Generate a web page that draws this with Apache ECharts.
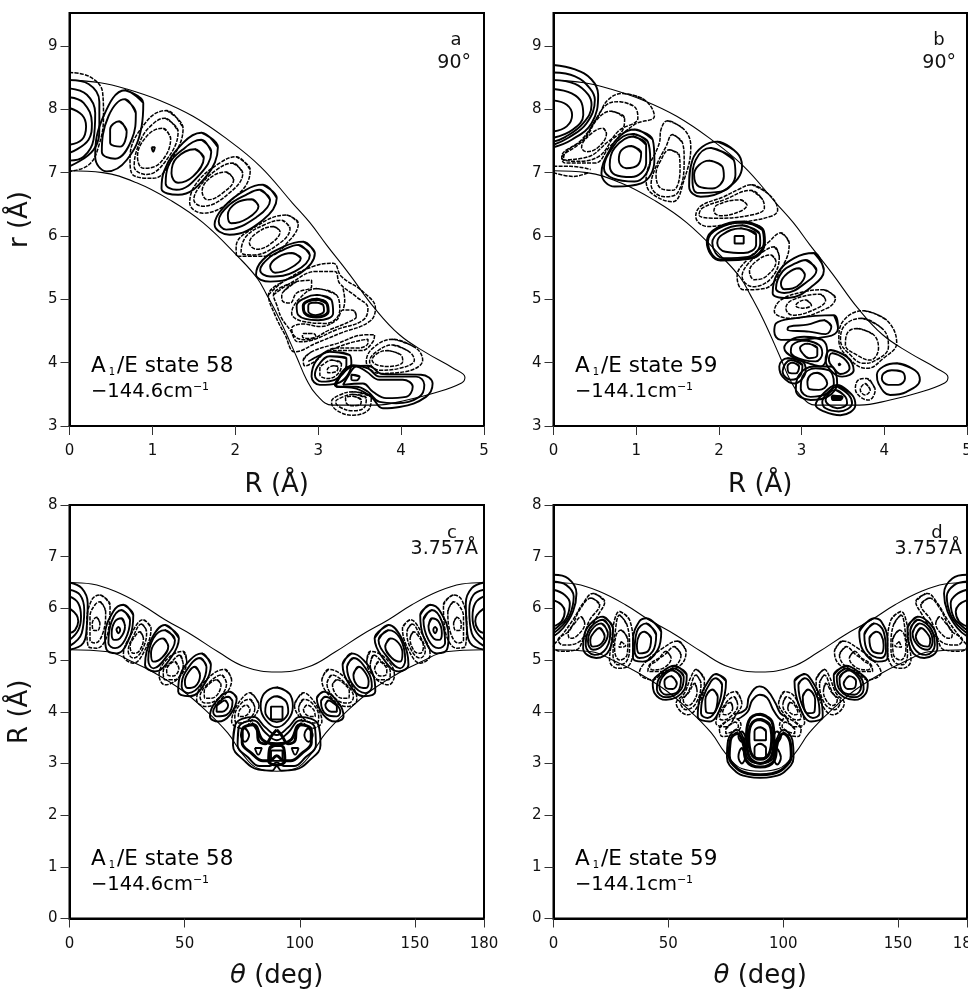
<!DOCTYPE html>
<html><head><meta charset="utf-8">
<style>html,body{margin:0;padding:0;background:#fff}#c{width:968px;height:994px}</style>
<script src="https://cdn.jsdelivr.net/npm/echarts@6/dist/echarts.min.js"></script>
</head><body><div id="c"></div>
<script>
const boundaryTopAB=[[0,8.46,.37,8.42,.69,8.32,1.09,8.14,1.49,7.89,1.89,7.54,2.3,7.1,2.69,6.52,2.9,6.21,3.1,5.86,3.38,5.39,3.68,4.86,3.98,4.44,4.31,4.15,4.62,3.92,4.77,3.77,4.73,3.68,4.4,3.52,4.07,3.41,3.7,3.33,3.17,3.33,2.98,3.49,2.86,3.73,2.74,4.09,2.54,4.67,2.38,5.07,2.26,5.34,2.05,5.65,1.61,6.21,1.21,6.57,.81,6.84,.4,7.0,0,7.03]];
const arcsSolidA=[
[0,8.46,.23,8.40,.36,8.12,.36,7.73,.29,7.36,0,7.1],
[0,8.33,.21,8.23,.31,7.94,.29,7.52,.17,7.25,0,7.19],
[0,8.19,.17,8.10,.27,7.78,.23,7.52,0,7.31],
[0,8.02,.15,7.91,.2,7.73,.15,7.52,0,7.44]];
const arcsDashedA=[
[0,8.58,.25,8.51,.40,8.26,.41,7.89,.35,7.41,.23,7.12,0,7.02],
[3.3,5.17,3.32,4.98,3.3,4.83]];
const solidA=[
[.67,8.30,.89,8.10,.87,7.73,.69,7.2,.45,7.02,.31,7.25,.41,7.89],
[.67,8.16,.8,7.94,.75,7.52,.55,7.22,.39,7.33,.47,7.89],
[.60,7.81,.69,7.65,.61,7.41,.49,7.47,.49,7.68],
[.99,7.40,1.03,7.40,1.01,7.33],
[1.59,7.63,1.79,7.40,1.65,6.94,1.31,6.65,1.11,6.75,1.14,7.02,1.37,7.47],
[1.59,7.52,1.71,7.33,1.57,6.97,1.29,6.73,1.16,6.83,1.19,7.1,1.39,7.39],
[1.51,7.37,1.62,7.23,1.49,6.94,1.31,6.84,1.23,6.99,1.29,7.23],
[2.33,6.81,2.5,6.60,2.33,6.25,1.93,6.02,1.75,6.18,1.85,6.44,2.13,6.73],
[2.29,6.73,2.42,6.57,2.27,6.31,1.89,6.10,1.80,6.23,1.91,6.47,2.13,6.65],
[2.2,6.58,2.28,6.47,2.15,6.28,1.95,6.20,1.91,6.33,2.01,6.52],
[2.82,5.91,2.96,5.73,2.78,5.41,2.42,5.28,2.25,5.39,2.33,5.62,2.58,5.83],
[2.76,5.86,2.9,5.70,2.72,5.44,2.42,5.36,2.30,5.46,2.42,5.67,2.58,5.78],
[2.68,5.73,2.79,5.65,2.66,5.49,2.48,5.42,2.42,5.52,2.52,5.67],
[2.98,5.07,3.16,4.99,3.18,4.78,3.0,4.67,2.76,4.75,2.74,4.9,2.84,5.02],
[2.98,5.0,3.10,4.94,3.12,4.81,2.98,4.72,2.84,4.78,2.82,4.9],
[2.97,4.95,3.06,4.91,3.07,4.82,2.97,4.75,2.88,4.81,2.88,4.9],
[3.3,3.65,3.38,3.83,3.46,3.94,3.58,3.86,3.74,3.73,4.02,3.73,4.14,3.62,4.06,3.46,3.82,3.44,3.66,3.54,3.54,3.67],
[3.22,3.67,3.42,3.96,3.6,3.91,3.74,3.78,4.18,3.78,4.28,3.65,4.22,3.46,3.94,3.36,3.74,3.38,3.6,3.54,3.46,3.62,3.22,3.62],
[3.2,3.65,3.38,3.94,3.6,3.95,3.78,3.82,4.24,3.81,4.38,3.67,4.3,3.46,3.98,3.3,3.78,3.28,3.64,3.46,3.46,3.59],
[3.4,3.81,3.5,3.78,3.46,3.72,3.4,3.74],
[3.14,4.17,3.38,4.12,3.4,3.99,3.22,3.67,3.02,3.65,2.92,3.78,2.98,4.04],
[3.14,4.1,3.34,4.07,3.34,3.96,3.2,3.73,3.04,3.7,2.96,3.81,3.02,3.99]];
const boldA=[[2.98,5.0,3.10,4.94,3.12,4.81,2.98,4.72,2.84,4.78,2.82,4.9]];
const dashedA=[
[1.17,7.98,1.37,7.70,1.25,7.25,1.01,6.91,.75,6.99,.73,7.23,.93,7.81],
[1.15,7.86,1.31,7.65,1.17,7.2,.93,6.97,.78,7.1,.85,7.49,.99,7.75],
[1.13,7.70,1.22,7.54,1.09,7.15,.89,7.07,.82,7.25,.95,7.6],
[2.01,7.25,2.18,7.04,2.05,6.68,1.61,6.36,1.45,6.52,1.53,6.83,1.81,7.15],
[1.97,7.15,2.09,6.99,1.93,6.68,1.61,6.47,1.50,6.57,1.57,6.78,1.77,7.04],
[1.89,7.01,1.98,6.89,1.85,6.68,1.67,6.57,1.60,6.70,1.69,6.91],
[2.62,6.33,2.76,6.20,2.66,5.94,2.38,5.68,2.02,5.68,2.01,5.83,2.25,6.15],
[2.56,6.25,2.66,6.12,2.54,5.89,2.21,5.70,2.07,5.75,2.13,5.99,2.34,6.17],
[2.46,6.15,2.54,6.07,2.44,5.89,2.26,5.79,2.17,5.89,2.25,6.04],
[2.40,5.07,2.58,5.28,2.94,5.52,3.18,5.57,3.28,5.36,3.54,5.12,3.69,4.86,3.62,4.65,3.26,4.46,2.98,4.31,2.72,4.17,2.6,4.44,2.48,4.75],
[2.46,5.07,2.66,5.25,2.98,5.44,3.2,5.44,3.26,5.25,3.46,5.04,3.6,4.86,3.54,4.67,3.22,4.52,2.94,4.36,2.76,4.33,2.66,4.52,2.56,4.7,2.5,4.91],
[2.58,5.12,2.74,5.28,2.92,5.3,2.92,5.2,2.74,5.1,2.66,4.94,2.58,4.96,2.56,5.05],
[3.44,4.81,3.46,4.73,3.38,4.65,3.14,4.52,2.86,4.36,2.72,4.41,2.68,4.54,2.82,4.61,3.02,4.57,3.22,4.67,3.3,4.83,3.38,4.83],
[2.82,4.46,2.94,4.46,2.97,4.42,2.88,4.38,2.81,4.41],
[2.98,5.17,3.22,5.07,3.26,4.83,3.10,4.62,2.82,4.65,2.68,4.78,2.78,5.02],
[2.82,4.04,2.92,4.17,3.22,4.3,3.58,4.44,3.68,4.44,3.66,4.33,3.52,4.19,3.34,4.19,3.14,4.19,2.96,4.02,2.84,3.95],
[2.88,4.02,3.1,4.17,3.38,4.31,3.6,4.37,3.6,4.31,3.48,4.23,3.22,4.23,3.02,4.12],
[3.9,4.37,4.18,4.23,4.26,4.04,4.06,3.86,3.74,3.83,3.58,4.02,3.66,4.23],
[3.9,4.28,4.1,4.17,4.16,4.04,3.98,3.91,3.74,3.88,3.62,4.02,3.7,4.17],
[3.84,4.19,4.0,4.12,4.02,4.02,3.86,3.94,3.72,3.96,3.65,4.04,3.72,4.15],
[3.16,4.04,3.28,3.99,3.26,3.86,3.12,3.75,3.02,3.81,3.02,3.91,3.08,3.99],
[3.19,3.95,3.24,3.94,3.22,3.86,3.12,3.84,3.11,3.89],
[3.42,3.54,3.64,3.46,3.62,3.28,3.42,3.17,3.22,3.25,3.16,3.38,3.26,3.49],
[3.42,3.5,3.58,3.44,3.56,3.3,3.42,3.24,3.26,3.3,3.21,3.38,3.3,3.46],
[3.42,3.47,3.52,3.41,3.5,3.33,3.4,3.32,3.34,3.36,3.33,3.44]];

const arcsSolidB=[
[0,8.70,.26,8.63,.46,8.47,.54,8.23,.46,7.78,.22,7.52,0,7.40],
[0,8.58,.26,8.52,.44,8.33,.5,8.15,.4,7.78,.18,7.55,0,7.44],
[0,8.46,.26,8.40,.42,8.23,.46,8.07,.36,7.78,.14,7.56,0,7.49],
[0,8.32,.22,8.25,.34,8.1,.36,7.91,.235,7.68,0,7.55],
[0,8.14,.16,8.07,.225,7.91,.16,7.73,0,7.65]];
const arcsDashedB=[[0,7.0,.24,6.94,.42,7.0],[0,7.1,.2,7.1,.45,7.05]];
const solidB=[
[.98,7.68,1.2,7.52,1.22,7.2,1.06,6.83,.74,6.78,.58,6.99,.68,7.36,.82,7.6],
[.96,7.61,1.14,7.49,1.17,7.2,.98,6.86,.72,6.91,.61,7.07,.72,7.41,.84,7.57],
[.96,7.57,1.12,7.44,1.12,7.15,.94,6.93,.74,6.97,.68,7.12,.74,7.39],
[.94,7.42,1.06,7.31,1.02,7.12,.88,7.07,.79,7.2,.82,7.35],
[1.98,7.49,2.22,7.31,2.28,7.1,2.1,6.75,1.78,6.62,1.64,6.78,1.68,7.2,1.8,7.41],
[1.9,7.39,2.18,7.2,2.2,6.97,2.02,6.7,1.74,6.68,1.68,6.89,1.72,7.2],
[1.88,7.19,2.04,7.1,2.06,6.94,1.92,6.75,1.76,6.78,1.7,6.97,1.76,7.12],
[2.3,6.22,2.53,6.1,2.55,5.91,2.39,5.65,2.02,5.62,1.86,5.91,1.98,6.12],
[2.28,6.17,2.49,6.04,2.5,5.89,2.35,5.67,2.06,5.65,1.92,5.89,2.02,6.07],
[2.26,6.12,2.45,6.02,2.45,5.86,2.3,5.73,2.08,5.75,1.98,5.89,2.04,6.02],
[2.19,6.0,2.3,6.0,2.3,5.88,2.19,5.88],
[3.15,5.73,3.27,5.46,3.15,5.23,2.83,5.02,2.65,5.1,2.71,5.41,2.91,5.65],
[3.05,5.62,3.18,5.46,3.07,5.28,2.79,5.1,2.69,5.17,2.77,5.44,2.93,5.57],
[2.97,5.49,3.04,5.39,2.89,5.17,2.79,5.16,2.75,5.25,2.83,5.41],
[3.39,4.75,3.44,4.54,3.31,4.41,2.75,4.36,2.67,4.49,2.69,4.62,2.91,4.7],
[3.27,4.67,3.36,4.57,3.29,4.45,3.09,4.49,2.83,4.52,2.85,4.57,3.07,4.6],
[4.15,3.99,4.37,3.88,4.43,3.73,4.27,3.54,4.07,3.49,3.93,3.67,3.91,3.81,3.99,3.94],
[4.09,3.88,4.21,3.86,4.25,3.75,4.17,3.65,4.05,3.65,3.97,3.75,3.99,3.83],
[3.03,4.41,3.25,4.36,3.31,4.17,3.23,3.94,3.09,3.99,2.89,4.09,2.79,4.23,2.87,4.36],
[3.05,4.35,3.21,4.28,3.25,4.15,3.17,4.02,3.03,4.04,2.87,4.17,2.89,4.28],
[3.07,4.3,3.19,4.23,3.19,4.12,3.09,4.07,3.01,4.15,2.98,4.23],
[2.83,4.07,3.01,4.02,3.05,3.88,2.91,3.67,2.77,3.78,2.73,3.94],
[2.87,4.04,3.01,3.96,2.99,3.81,2.87,3.73,2.77,3.86],
[2.89,4.0,2.97,3.94,2.93,3.83,2.85,3.84,2.83,3.94],
[3.15,3.94,3.35,3.94,3.43,3.67,3.31,3.46,3.11,3.41,2.93,3.57,2.97,3.81],
[3.17,3.91,3.33,3.88,3.39,3.67,3.27,3.49,3.11,3.46,2.99,3.59,3.01,3.78],
[3.19,3.84,3.27,3.78,3.31,3.67,3.21,3.57,3.1,3.58,3.07,3.7,3.11,3.81],
[3.35,4.2,3.55,4.09,3.63,3.88,3.49,3.78,3.39,3.83,3.29,4.04],
[3.37,4.15,3.51,4.07,3.58,3.91,3.47,3.82,3.39,3.91,3.33,4.04],
[3.45,3.99,3.47,3.97,3.45,3.96],
[3.43,3.65,3.61,3.49,3.65,3.33,3.47,3.17,3.27,3.23,3.17,3.33,3.27,3.52],
[3.43,3.62,3.57,3.49,3.61,3.36,3.45,3.23,3.29,3.28,3.25,3.38,3.31,3.52],
[3.41,3.57,3.53,3.46,3.55,3.36,3.43,3.28,3.33,3.33,3.29,3.41],
[3.37,3.47,3.49,3.46,3.47,3.42,3.38,3.42]];
const boldB=[[3.37,3.47,3.49,3.46,3.47,3.42,3.38,3.42],[2.3,6.22,2.53,6.1,2.55,5.91,2.39,5.65,2.02,5.62,1.86,5.91,1.98,6.12]];
const dashedB=[
[.84,8.25,1.1,8.15,1.22,7.89,.98,7.76,.68,7.41,.5,7.15,.14,7.15,.1,7.25,.34,7.52,.54,7.89,.66,8.15],
[.8,8.12,.98,8.04,1.02,7.86,.78,7.65,.54,7.25,.26,7.18,.1,7.23,.34,7.49,.52,7.86,.64,8.07],
[.7,7.97,.86,7.86,.84,7.68,.66,7.49,.42,7.25,.12,7.2,.14,7.31,.38,7.54,.54,7.86],
[.6,7.70,.64,7.62,.54,7.40,.4,7.33,.34,7.40,.46,7.62],
[1.38,7.82,1.58,7.68,1.66,7.41,1.58,6.89,1.44,6.54,1.18,6.68,1.12,6.89,1.28,7.47,1.3,7.68],
[1.44,7.6,1.56,7.47,1.58,7.2,1.5,6.68,1.34,6.62,1.18,6.81,1.24,7.1,1.36,7.41],
[1.4,7.36,1.52,7.28,1.53,7.04,1.44,6.72,1.3,6.75,1.24,6.97,1.3,7.2],
[2.39,6.81,2.61,6.65,2.71,6.41,2.63,6.31,2.18,6.2,1.86,6.15,1.72,6.31,1.78,6.47,2.06,6.62,2.26,6.75],
[2.39,6.72,2.53,6.57,2.55,6.44,2.39,6.33,1.94,6.28,1.76,6.33,1.8,6.44,2.06,6.57],
[2.26,6.57,2.34,6.49,2.26,6.39,2.02,6.32,1.94,6.39,1.98,6.49],
[2.75,6.05,2.85,5.89,2.79,5.57,2.55,5.17,2.3,5.15,2.22,5.36,2.34,5.62,2.59,5.89],
[2.67,5.83,2.73,5.67,2.63,5.33,2.41,5.2,2.28,5.36,2.34,5.54,2.51,5.73],
[2.63,5.7,2.69,5.6,2.57,5.36,2.43,5.31,2.37,5.44,2.47,5.62],
[3.27,5.15,3.41,5.02,3.31,4.86,2.87,4.7,2.67,4.81,2.75,4.99,3.03,5.12],
[3.23,5.08,3.29,4.99,3.19,4.86,2.89,4.75,2.81,4.86,2.89,4.99],
[3.05,4.99,3.12,4.91,3.01,4.86,2.93,4.9,2.97,4.96],
[3.75,4.82,4.03,4.67,4.15,4.31,3.99,4.07,3.79,3.91,3.61,4.02,3.45,4.36,3.51,4.67],
[3.73,4.7,3.99,4.52,4.05,4.25,3.87,4.02,3.75,3.99,3.59,4.12,3.47,4.36,3.53,4.6],
[3.67,4.54,3.87,4.44,3.93,4.23,3.83,4.04,3.67,4.12,3.53,4.28,3.55,4.46],
[3.79,3.75,3.89,3.57,3.81,3.41,3.71,3.46,3.65,3.59,3.69,3.73],
[3.77,3.67,3.83,3.57,3.77,3.49,3.71,3.57]];

const boundaryCD=[
[0,6.5,9.6,6.47,19.8,6.33,31.3,6.07,41.5,5.78,53,5.49,64.5,5.16,76.2,4.87,90,4.77,103.8,4.87,115.5,5.16,127,5.49,138.5,5.78,148.7,6.07,160.2,6.33,170.4,6.47,180,6.5],
[0,5.2,16.7,5.16,27,4.97,37,4.75,48.7,4.42,58.8,4.04,68.7,3.59,74.8,3.2,81.9,2.9,90,2.85,98.1,2.9,105.2,3.2,111.3,3.59,121.2,4.04,131.3,4.42,143,4.75,153,4.97,163.3,5.16,180,5.2]];
const arcsSolidC=[
[0,6.5,5.3,6.39,7.9,6.1,7.5,5.65,6,5.33,0,5.2],[0,6.36,4.6,6.26,6.4,5.97,5.3,5.52,0,5.27],[0,6.23,3.8,6.1,5,5.84,3.8,5.58,0,5.39],[0,6.0,3.1,5.87,3.8,5.75,2.4,5.58,0,5.52],
[180,6.5,174.7,6.39,172.1,6.1,172.5,5.65,174,5.33,180,5.2],[180,6.36,175.4,6.26,173.6,5.97,174.7,5.52,180,5.27],[180,6.23,176.2,6.1,175,5.84,176.2,5.58,180,5.39],[180,6.0,176.9,5.87,176.2,5.75,177.6,5.58,180,5.52]];
const boldArcsC=[[79,3.78,81.5,3.65,82,3.45,85,3.38,88,3.55,90,3.65],[101,3.78,98.5,3.65,98,3.45,95,3.38,92,3.55,90,3.65]];
const solidC=[
[23.4,6.07,27.7,5.87,26.3,5.46,20.5,5.13,16.1,5.2,15.4,5.46,19,5.94],[22.6,5.97,26.3,5.78,24.1,5.39,19.8,5.23,16.9,5.33,18.3,5.75],[22.6,5.81,24.1,5.65,21.9,5.42,19.5,5.39,18.3,5.52,19.8,5.75],[20.4,5.6,21.2,5.64,22,5.58,21.2,5.52],
[41.5,5.68,47.5,5.42,44.4,5.07,37.1,4.78,32.8,4.91,35.4,5.39],[41.5,5.58,45.8,5.39,42.2,5.07,36.4,4.84,34.2,5,36.4,5.42],[40.7,5.42,42.9,5.26,40,5.04,36.4,4.97,35.4,5.13,37.1,5.33],
[57.4,5.13,61.4,4.91,58.8,4.55,52.3,4.3,47.2,4.39,47.9,4.68,52.3,5],[56.7,5.04,59.5,4.87,57.4,4.55,51.6,4.36,48.7,4.49,50.1,4.75],[54.5,4.87,56.7,4.71,54.5,4.49,51.3,4.46,50.1,4.59,51.9,4.78],
[69.7,4.39,72.6,4.26,69.7,3.94,64.6,3.81,61,3.91,63.2,4.17],[68.9,4.29,70.8,4.2,68.2,3.94,63.9,3.91,62.4,4,65.3,4.2],[67.5,4.22,68.9,4.13,66.3,4,63.9,4,63.9,4.1,65.8,4.18],
[156.6,6.07,152.3,5.87,153.7,5.46,159.5,5.13,163.9,5.2,164.6,5.46,161,5.94],[157.4,5.97,153.7,5.78,155.9,5.39,160.2,5.23,163.1,5.33,161.7,5.75],[157.4,5.81,155.9,5.65,158.1,5.42,160.5,5.39,161.7,5.52,160.2,5.75],[159.6,5.6,158.8,5.64,158,5.58,158.8,5.52],
[138.5,5.68,132.5,5.42,135.6,5.07,142.9,4.78,147.2,4.91,144.6,5.39],[138.5,5.58,134.2,5.39,137.8,5.07,143.6,4.84,145.8,5,143.6,5.42],[139.3,5.42,137.1,5.26,140,5.04,143.6,4.97,144.6,5.13,142.9,5.33],
[122.6,5.13,118.6,4.91,121.2,4.55,127.7,4.3,132.8,4.39,132.1,4.68,127.7,5],[123.3,5.04,120.5,4.87,122.6,4.55,128.4,4.36,131.3,4.49,129.9,4.75],[125.5,4.87,123.3,4.71,125.5,4.49,128.7,4.46,129.9,4.59,128.1,4.78],
[110.3,4.39,107.4,4.26,110.3,3.94,115.4,3.81,119,3.91,116.8,4.17],[111.1,4.29,109.2,4.2,111.8,3.94,116.1,3.91,117.6,4,114.7,4.2],[112.5,4.22,111.1,4.13,113.7,4,116.1,4,116.1,4.1,114.2,4.18],
[90,4.47,95.5,4.35,97,4.1,95,3.85,90,3.7,85,3.85,83,4.1,84.5,4.35],[90,4.3,94,4.2,95,4.0,93,3.85,90,3.8,87,3.85,85,4.0,86,4.2],[87.5,4.1,92.5,4.1,92.5,3.85,87.5,3.85],
[72,3.75,71,3.35,76,3.05,82,2.88,88,2.86,90,2.95,92,2.86,98,2.88,104,3.05,109,3.35,108,3.75,100,3.9,95,3.7,90,3.55,85,3.7,80,3.9],
[73.5,3.7,73,3.35,77.5,3.12,82.5,2.95,87,2.95,90,3.02,93,2.95,97.5,2.95,102.5,3.12,107,3.35,106.5,3.7,100,3.83,95,3.6,90,3.45,85,3.6,80,3.83],
[76.2,3.68,78,3.55,76.2,3.42,74.4,3.55],[103.8,3.68,105.6,3.55,103.8,3.42,102,3.55],
[80.5,3.3,83.5,3.3,82,3.17],[99.5,3.3,96.5,3.3,98,3.17],
[87.5,3.25,92.5,3.25,92.5,3.05,87.5,3.05]];
const boldC=[[75,3.65,75,3.4,79,3.2,84,3.05,87,3.05,90,3.15,93,3.05,96,3.05,101,3.2,105,3.4,105,3.65,100,3.75,96,3.45,90,3.38,84,3.45,80,3.75],[87,3.3,90,3.35,93,3.3,93.5,3.05,90,2.97,86.5,3.05]];
const dashedC=[
[13.2,6.26,17.6,6.07,16.9,5.58,11.8,5.23,8.2,5.26,7.5,5.71,9.6,6.16],[13.2,6.13,15.7,5.94,14.7,5.55,11.1,5.33,8.9,5.39,8.9,5.84,11.1,6.07],[11.8,5.83,13.2,5.71,12.2,5.57,10.3,5.58,9.9,5.71],
[32.1,5.78,35.4,5.62,32.8,5.2,27.7,4.94,23.4,5.1,26.3,5.46],[31.3,5.7,33.5,5.55,31.3,5.17,27.7,5.04,25.5,5.17,27.7,5.46],[30.6,5.55,32.1,5.42,30.2,5.17,27.7,5.13,26.3,5.26,28.4,5.46],
[49.4,5.17,50.9,4.97,47.2,4.65,41.5,4.52,38.9,4.71,42.9,5.04],[47.9,5.1,49.4,4.91,45.8,4.62,41.5,4.62,40.7,4.78,44.4,4.97],[45.8,4.97,47.5,4.84,45.1,4.69,42.6,4.71,42.2,4.81,44.1,4.94],
[67.5,4.82,70.4,4.62,66.1,4.26,59.5,4.1,55.2,4.23,58.8,4.59],[66.1,4.71,68.2,4.55,63.9,4.23,58.8,4.17,56.7,4.29,60.3,4.55],[63.9,4.62,65.8,4.52,61.7,4.26,58.8,4.26,58.5,4.39,61,4.55],
[78.4,4.37,82.3,4.13,79.8,3.88,74.7,3.68,70.4,3.81,71.8,4.04,75.5,4.29],[78.4,4.24,80.5,4.07,77.6,3.84,72.6,3.78,71.8,3.91,74.7,4.17],[76.9,4.13,78.4,4.04,75.5,3.91,73.3,3.91,74,4.04],
[166.8,6.26,162.4,6.07,163.1,5.58,168.2,5.23,171.8,5.26,172.5,5.71,170.4,6.16],[166.8,6.13,164.3,5.94,165.3,5.55,168.9,5.33,171.1,5.39,171.1,5.84,168.9,6.07],[168.2,5.83,166.8,5.71,167.8,5.57,169.7,5.58,170.1,5.71],
[147.9,5.78,144.6,5.62,147.2,5.2,152.3,4.94,156.6,5.1,153.7,5.46],[148.7,5.7,146.5,5.55,148.7,5.17,152.3,5.04,154.5,5.17,152.3,5.46],[149.4,5.55,147.9,5.42,149.8,5.17,152.3,5.13,153.7,5.26,151.6,5.46],
[130.6,5.17,129.1,4.97,132.8,4.65,138.5,4.52,141.1,4.71,137.1,5.04],[132.1,5.1,130.6,4.91,134.2,4.62,138.5,4.62,139.3,4.78,135.6,4.97],[134.2,4.97,132.5,4.84,134.9,4.69,137.4,4.71,137.8,4.81,135.9,4.94],
[112.5,4.82,109.6,4.62,113.9,4.26,120.5,4.1,124.8,4.23,121.2,4.59],[113.9,4.71,111.8,4.55,116.1,4.23,121.2,4.17,123.3,4.29,119.7,4.55],[116.1,4.62,114.2,4.52,118.3,4.26,121.2,4.26,121.5,4.39,119,4.55],
[101.6,4.37,97.7,4.13,100.2,3.88,105.3,3.68,109.6,3.81,108.2,4.04,104.5,4.29],[101.6,4.24,99.5,4.07,102.4,3.84,107.4,3.78,108.2,3.91,105.3,4.17],[103.1,4.13,101.6,4.04,104.5,3.91,106.7,3.91,106,4.04]];

const arcsSolidD=[
[0,6.65,6.4,6.58,10,6.29,8.5,5.94,4.2,5.62,0,5.46],[0,6.52,5.6,6.45,8.8,6.23,7.1,5.87,3.5,5.65,0,5.52],[0,6.36,4.9,6.26,7.1,6.1,5.6,5.81,2,5.65,0,5.58],[0,6.16,3.5,6.07,4.9,5.94,3.5,5.75,0,5.65],
[180,6.65,173.6,6.58,170,6.29,171.5,5.94,175.8,5.62,180,5.46],[180,6.52,174.4,6.45,171.2,6.23,172.9,5.87,176.5,5.65,180,5.52],[180,6.36,175.1,6.26,172.9,6.1,174.4,5.81,178,5.65,180,5.58],[180,6.16,176.5,6.07,175.1,5.94,176.5,5.75,180,5.65],
[78.5,3.95,83.8,4.05,85.2,4.3,89.6,4.49,93,4.42,96.7,4.16,98.8,3.97,101.5,3.9],[80,3.85,84.5,4.0,86.5,4.22,89.8,4.33,93,4.27,95.5,4.05,98,3.88,100,3.82]];
const solidD=[
[21.5,5.84,25.9,5.62,24.4,5.2,18.6,5.04,12.9,5.23,13.6,5.52,17.2,5.75],[21.5,5.78,24.7,5.58,23,5.23,17.9,5.1,14,5.29,15,5.55,17.9,5.71],[20.8,5.71,23.7,5.52,21.5,5.29,17.2,5.2,15,5.36,16.5,5.58],[20.1,5.62,22.3,5.46,20.1,5.29,17.2,5.26,16,5.39,17.9,5.55],
[40.4,5.81,46.9,5.55,45.4,5.2,38.9,4.97,34.6,5.04,34.6,5.39,37.4,5.75],[40.4,5.71,44.7,5.49,43.2,5.17,37.4,5.04,35.3,5.17,36.3,5.55],[39.6,5.55,42.5,5.42,41.1,5.17,37.4,5.13,36.3,5.29,37.4,5.49],
[52.6,4.89,58,4.71,57,4.43,49,4.23,44,4.36,43.2,4.55,47.6,4.78],[52.6,4.84,56.7,4.68,55.5,4.43,49,4.28,45,4.43,45.4,4.59,48.3,4.75],[51.9,4.8,55.5,4.65,54.1,4.39,49,4.33,46.1,4.49,47.6,4.68],[51.2,4.69,53.7,4.55,51.9,4.44,49,4.46,48.3,4.59],
[70.7,4.73,75.1,4.59,72.9,4.1,67.8,3.81,62.8,3.91,63.5,4.23,67.8,4.62],[70.7,4.65,73.4,4.52,71.5,4.1,67.1,3.88,64.2,3.97,65,4.26,68.6,4.59],[69.3,4.43,71.5,4.29,69.3,3.97,66.4,4,66.1,4.23],
[158.5,5.84,154.1,5.62,155.6,5.2,161.4,5.04,167.1,5.23,166.4,5.52,162.8,5.75],[158.5,5.78,155.3,5.58,157,5.23,162.1,5.1,166,5.29,165,5.55,162.1,5.71],[159.2,5.71,156.3,5.52,158.5,5.29,162.8,5.2,165,5.36,163.5,5.58],[159.9,5.62,157.7,5.46,159.9,5.29,162.8,5.26,164,5.39,162.1,5.55],
[139.6,5.81,133.1,5.55,134.6,5.2,141.1,4.97,145.4,5.04,145.4,5.39,142.6,5.75],[139.6,5.71,135.3,5.49,136.8,5.17,142.6,5.04,144.7,5.17,143.7,5.55],[140.4,5.55,137.5,5.42,138.9,5.17,142.6,5.13,143.7,5.29,142.6,5.49],
[127.4,4.89,122,4.71,123,4.43,131,4.23,136,4.36,136.8,4.55,132.4,4.78],[127.4,4.84,123.3,4.68,124.5,4.43,131,4.28,135,4.43,134.6,4.59,131.7,4.75],[128.1,4.8,124.5,4.65,125.9,4.39,131,4.33,133.9,4.49,132.4,4.68],[128.8,4.69,126.3,4.55,128.1,4.44,131,4.46,131.7,4.59],
[109.3,4.73,104.9,4.59,107.1,4.1,112.2,3.81,117.2,3.91,116.5,4.23,112.2,4.62],[109.3,4.65,106.6,4.52,108.5,4.1,112.9,3.88,115.8,3.97,115,4.26,111.4,4.59],[110.7,4.43,108.5,4.29,110.7,3.97,113.6,4,113.9,4.23],
[76,3.45,75.5,3.12,79.4,2.84,85,2.74,90,2.72,95,2.74,100.6,2.84,104.5,3.12,104,3.45,100,3.65,97,3.45,95.5,3.1,90,3.0,84.5,3.1,83,3.45,80,3.65],
[82,3.3,83.5,3.13,82,3.0,80.5,3.13],[97.4,3.28,99,3.12,97.4,2.98,95.8,3.12],[82,3.62,83.5,3.52,82,3.42,80.5,3.52],[97.4,3.62,99,3.52,97.4,3.42,95.8,3.52],
[90,3.7,92.5,3.62,92.5,3.45,87.5,3.45,87.5,3.62],[90,3.38,92.5,3.3,92.5,3.15,90,3.1,87.5,3.15,87.5,3.3]];
const boldD=[
[77,3.45,76.5,3.15,80,2.9,85,2.8,90,2.78,95,2.8,100,2.9,103.5,3.15,103,3.42,100,3.58,97.5,3.4,96,3.05,90,2.93,84,3.05,82.5,3.4,80,3.58],
[90,3.95,95,3.82,96,3.5,95,3.15,90,3.0,85,3.15,84,3.5,85,3.82],[90,3.85,94,3.75,95,3.5,94,3.2,90,3.08,86,3.2,85,3.5,86,3.75]];
const dashedD=[
[17.2,6.29,22.3,6.13,19.4,5.87,12.9,5.39,10,5.2,2.7,5.17,0,5.26,2.7,5.42,8.5,5.78,12.9,6.1],[16.5,6.2,20.1,6.07,15.8,5.78,11.4,5.36,4.2,5.29,2,5.39,7.1,5.58,11.4,5.97],[12.1,5.84,13.6,5.71,10,5.46,7.1,5.42,6.4,5.52,9.2,5.71],
[28.8,5.94,33.1,5.78,34.6,5.26,33.1,4.91,28,4.84,24.4,5,25.2,5.33,26.6,5.78],[28.8,5.87,32,5.68,33.1,5.26,31.7,4.97,28,4.91,25.9,5.1,26.6,5.46],[29.5,5.58,32.4,5.39,32,5.1,28.8,5,26.6,5.2,27.3,5.49],[29.5,5.36,31.4,5.27,28.5,5.25],
[54.1,5.37,57.7,5.17,55.5,4.91,47.6,4.75,43.2,4.62,37.4,4.75,39.6,4.94,47.6,5.23],[52.6,5.26,55.5,5.1,52.6,4.87,46.1,4.78,41.1,4.78,41.8,4.91,48.3,5.1],[49,5.17,51.2,5.04,47.6,4.84,43.2,4.81,41.8,4.87,45.4,5],
[62.1,4.82,65.7,4.62,63.5,4.17,58.4,3.94,53.4,4.17,57,4.36,59.9,4.68],[62.1,4.71,64.2,4.55,62.1,4.17,57.7,4.04,55.1,4.2,58.4,4.36],[61.5,4.55,62.5,4.4,61,4.2,58.5,4.12,56.5,4.22,59,4.38],
[79.4,4.39,82,4.17,79.4,3.94,75.1,3.71,70.7,3.78,72.9,4.1,75.8,4.33],[78.7,4.29,80.2,4.13,77.2,3.91,73.6,3.84,72.2,3.88,75.1,4.17],[77.2,4.18,78,4.07,75.1,3.94,73.6,3.97,75.1,4.13],
[72.2,3.68,78.7,3.88,81.6,3.75,79.4,3.59,73.6,3.52],[75,3.66,79,3.8,80.5,3.72,78,3.62,75,3.58],
[162.8,6.29,157.7,6.13,160.6,5.87,167.1,5.39,170,5.2,177.3,5.17,180,5.26,177.3,5.42,171.5,5.78,167.1,6.1],[163.5,6.2,159.9,6.07,164.2,5.78,168.6,5.36,175.8,5.29,178,5.39,172.9,5.58,168.6,5.97],[167.9,5.84,166.4,5.71,170,5.46,172.9,5.42,173.6,5.52,170.8,5.71],
[151.2,5.94,146.9,5.78,145.4,5.26,146.9,4.91,152,4.84,155.6,5,154.8,5.33,153.4,5.78],[151.2,5.87,148,5.68,146.9,5.26,148.3,4.97,152,4.91,154.1,5.1,153.4,5.46],[150.5,5.58,147.6,5.39,148,5.1,151.2,5,153.4,5.2,152.7,5.49],[150.5,5.36,148.6,5.27,151.5,5.25],
[125.9,5.37,122.3,5.17,124.5,4.91,132.4,4.75,136.8,4.62,142.6,4.75,140.4,4.94,132.4,5.23],[127.4,5.26,124.5,5.1,127.4,4.87,133.9,4.78,138.9,4.78,138.2,4.91,131.7,5.1],[131,5.17,128.8,5.04,132.4,4.84,136.8,4.81,138.2,4.87,134.6,5],
[117.9,4.82,114.3,4.62,116.5,4.17,121.6,3.94,126.6,4.17,123,4.36,120.1,4.68],[117.9,4.71,115.8,4.55,117.9,4.17,122.3,4.04,124.9,4.2,121.6,4.36],[118.5,4.55,117.5,4.4,119,4.2,121.5,4.12,123.5,4.22,121,4.38],
[100.6,4.39,98,4.17,100.6,3.94,104.9,3.71,109.3,3.78,107.1,4.1,104.2,4.33],[101.3,4.29,99.8,4.13,102.8,3.91,106.4,3.84,107.8,3.88,104.9,4.17],[102.8,4.18,102,4.07,104.9,3.94,106.4,3.97,104.9,4.13],
[107.8,3.68,101.3,3.88,98.4,3.75,100.6,3.59,106.4,3.52],[105,3.66,101,3.8,99.5,3.72,102,3.62,105,3.58]];

const panelTags=['a','b','c','d'];
const panelCuts=['90°','90°','3.757Å','3.757Å'];
const stateNumbers=['58','59','58','59'];
const energies=['−144.6','−144.1','−144.6','−144.1'];

const FONT='"DejaVu Sans"';
const geo=[
 {left:69.5,top:13,w:414.5,h:413},
 {left:553.5,top:13,w:413.5,h:413},
 {left:69.5,top:505,w:414.5,h:413.5},
 {left:553.5,top:505,w:413.5,h:413.5}];
const axisCommon={
 axisLine:{show:true,onZero:false,lineStyle:{color:'#000',width:2}},
 axisTick:{show:true,inside:false,length:9,lineStyle:{color:'#333',width:1}},
 splitLine:{show:false},
 nameTextStyle:{fontFamily:FONT,fontSize:26,color:'#111'}};
const labels=(m)=>({margin:m,fontFamily:FONT,fontSize:15,color:'#111',showMaxLabel:true,hideOverlap:false});

const grid=geo.map(g=>({left:g.left,top:g.top,width:g.w,height:g.h,show:true,borderColor:'#000',borderWidth:2,backgroundColor:'transparent',containLabel:false,outerBoundsMode:'none'}));
const xAxis=[0,1,2,3].map(i=>{
  const top=i<2;
  return Object.assign({},axisCommon,{type:'value',gridIndex:i,min:0,max:top?5:180,interval:top?1:50,
    axisLabel:labels(18),nameLocation:'middle',nameGap:top?46:45,
    name:top?'R (Å)':'{t|θ} {n|(deg)}',
    nameTextStyle:{fontFamily:FONT,fontSize:26,color:'#111',rich:{t:{fontFamily:FONT,fontStyle:'italic',fontSize:26,color:'#111'},n:{fontFamily:FONT,fontSize:26,color:'#111'}}}});
});
const yAxis=[0,1,2,3].map(i=>{
  const top=i<2;
  const a=Object.assign({},axisCommon,{type:'value',gridIndex:i,min:top?3:0,max:top?9.52:8,interval:1,
    axisLabel:Object.assign(labels(12),{showMaxLabel:!top})});
  if(i===0){a.name='r (Å)';a.nameLocation='middle';a.nameGap=36;}
  if(i===2){a.name='R (Å)';a.nameLocation='middle';a.nameGap=36;}
  return a;
});

const series=[];
function add(list,panel,style,closed){
  list.forEach(c=>{
    const d=[];
    for(let k=0;k<c.length;k+=2)d.push([c[k],c[k+1]]);
    if(closed){d.push(d[0].slice());if(d.length>4)d.push(d[1].slice());}
    series.push({type:'line',xAxisIndex:panel,yAxisIndex:panel,data:d,symbol:'none',smooth:0.42,silent:true,animation:false,clip:true,lineStyle:style});
  });
}
const thin={color:'#000',width:1.1};
const sol={color:'#000',width:1.9};
const bold={color:'#000',width:3};
const das={color:'#000',width:1.5,type:[4,1.2]};
[boundaryTopAB].forEach(b=>{add(b,0,thin,false);add(b,1,thin,false);});
add(boundaryCD,2,thin,false);add(boundaryCD,3,thin,false);
add(arcsSolidA,0,sol,false);add(arcsDashedA,0,das,false);add(solidA,0,sol,true);add(dashedA,0,das,true);add(boldA,0,bold,true);
add(arcsSolidB,1,sol,false);add(arcsDashedB,1,das,false);add(solidB,1,sol,true);add(dashedB,1,das,true);add(boldB,1,bold,true);
add(arcsSolidC,2,sol,false);add(boldArcsC,2,bold,false);add(solidC,2,sol,true);add(dashedC,2,das,true);add(boldC,2,bold,true);
add(arcsSolidD,3,sol,false);add(solidD,3,sol,true);add(dashedD,3,das,true);add(boldD,3,bold,true);

const rich={m:{fontFamily:FONT,fontSize:21.5,color:'#111'},m2:{fontFamily:FONT,fontSize:19.5,color:'#111'},s:{fontFamily:FONT,fontSize:10,color:'#111',verticalAlign:'bottom',padding:[0,2,0,3]},u:{fontFamily:FONT,fontSize:11,color:'#111',verticalAlign:'top'}};
const graphic=[];
const textPos=[{x:91,y1:366,y2:392},{x:575,y1:366,y2:392},{x:91,y1:859,y2:885},{x:575,y1:859,y2:885}];
const tagPos=[{x:456,y:40,cx:471,cy:63},{x:939,y:40,cx:956,cy:63},{x:452,y:533,cx:478,cy:549},{x:937,y:533,cx:962,cy:549}];
[0,1,2,3].forEach(i=>{
  const p=textPos[i],t=tagPos[i];
  graphic.push({type:'text',silent:true,style:{x:p.x,y:p.y1,text:'{m|A}{s|1}{m|/E state '+stateNumbers[i]+'}',rich:rich,verticalAlign:'middle',align:'left'}});
  graphic.push({type:'text',silent:true,style:{x:p.x,y:p.y2,text:'{m2|'+energies[i]+'cm}{u|−1}',rich:rich,verticalAlign:'middle',align:'left'}});
  graphic.push({type:'text',silent:true,style:{x:t.x,y:t.y,text:panelTags[i],font:'18px '+FONT,fill:'#111',align:'center',verticalAlign:'middle'}});
  graphic.push({type:'text',silent:true,style:{x:t.cx,y:t.cy,text:panelCuts[i],font:'19px '+FONT,fill:'#111',align:'right',verticalAlign:'middle'}});
});

const chart=echarts.init(document.getElementById('c'),null,{renderer:'canvas'});
chart.setOption({backgroundColor:'#fff',animation:false,grid,xAxis,yAxis,series,graphic});
</script></body></html>
